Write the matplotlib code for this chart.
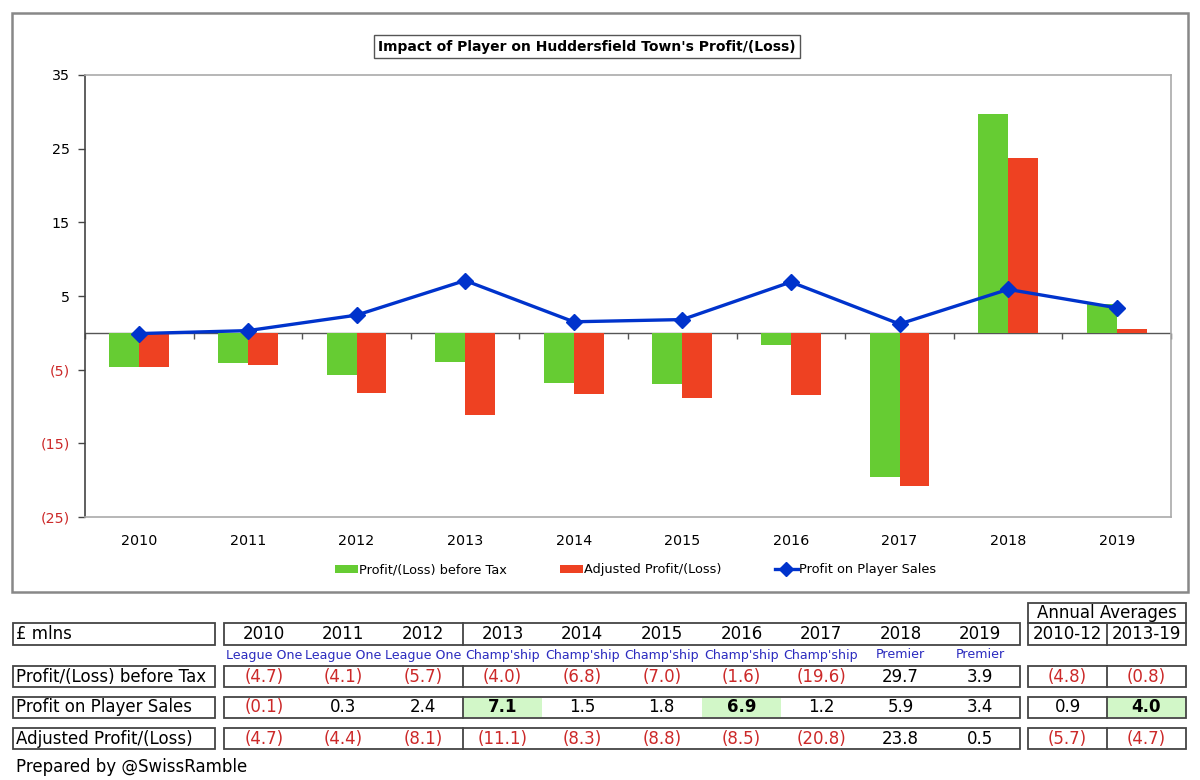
import numpy as np
import matplotlib
matplotlib.use("Agg")
import matplotlib.pyplot as plt
from matplotlib.patches import Rectangle

# ---- data ----
years = ['2010', '2011', '2012', '2013', '2014', '2015', '2016', '2017', '2018', '2019']
leagues = ['League One', 'League One', 'League One', "Champ'ship", "Champ'ship",
           "Champ'ship", "Champ'ship", "Champ'ship", 'Premier', 'Premier']
pbt = [-4.7, -4.1, -5.7, -4.0, -6.8, -7.0, -1.6, -19.6, 29.7, 3.9]
player_sales = [-0.1, 0.3, 2.4, 7.1, 1.5, 1.8, 6.9, 1.2, 5.9, 3.4]
adjusted = [-4.7, -4.4, -8.1, -11.1, -8.3, -8.8, -8.5, -20.8, 23.8, 0.5]

avg_labels = ['2010-12', '2013-19']
avg_pbt = [-4.8, -0.8]
avg_sales = [0.9, 4.0]
avg_adjusted = [-5.7, -4.7]

row_names = ['Profit/(Loss) before Tax', 'Profit on Player Sales', 'Adjusted Profit/(Loss)']
row_values = [pbt, player_sales, adjusted]
row_avgs = [avg_pbt, avg_sales, avg_adjusted]
# highlighted cells (row index, column index) - bold on pale green
hilite_years = [(1, 3), (1, 6)]
hilite_avgs = [(1, 1)]

ytick_vals = [35, 25, 15, 5, -5, -15, -25]

title = "Impact of Player on Huddersfield Town's Profit/(Loss)"

GREEN = '#66cc33'
RED_BAR = '#ee4122'
BLUE = '#0033cc'
RED_TXT = '#cc2929'
LEAGUE_BLUE = '#2b2bbf'
HILITE = '#d2f7c8'
BOX = '#444444'

plt.rcParams['font.family'] = ['DejaVu Sans']

W, H = 1200, 780
fig = plt.figure(figsize=(12, 7.8), dpi=100)

# background axes in pixel coords (y down)
bg = fig.add_axes([0, 0, 1, 1], zorder=0)
bg.set_xlim(0, W)
bg.set_ylim(H, 0)
bg.axis('off')


def px_box(x0, y0, x1, y1):
    return [x0 / W, 1 - y1 / H, (x1 - x0) / W, (y1 - y0) / H]


def fmt(v, dec=1):
    s = f'{abs(v):.{dec}f}'
    return f'({s})' if v < 0 else s


def tcol(v):
    return RED_TXT if v < 0 else 'black'


# outer chart frame + title
bg.add_patch(Rectangle((12, 13), 1176, 579, fill=False, ec='#888888', lw=1.8))
bg.text(587, 46.5, title, ha='center', va='center', fontsize=10, fontweight='bold',
        bbox=dict(boxstyle='square,pad=0.3', fc='white', ec='#555555', lw=1))

# ==========================================
# chart
# ==========================================
ax = fig.add_axes(px_box(85, 75, 1171, 517), zorder=1)
ax.set_facecolor('white')
x = np.arange(len(years))
bw = 0.276
ax.axhline(0, color='#555555', lw=1, zorder=1.5)
b1 = ax.bar(x - bw / 2, pbt, bw, color=GREEN, zorder=2)
b2 = ax.bar(x + bw / 2, adjusted, bw, color=RED_BAR, zorder=2)
ln, = ax.plot(x, player_sales, color=BLUE, lw=2.4, marker='D', ms=8.5, zorder=3)
# category boundary ticks on the zero line
ax.plot(np.arange(-0.5, len(years)), np.zeros(len(years) + 1), ls='none', marker=3,
        ms=4, mew=1, color='#555555', clip_on=False, zorder=1.5)

ax.set_xlim(-0.5, len(years) - 0.5)
ax.set_ylim(-25, 35)
ax.set_xticks(x)
ax.set_xticklabels(years, fontsize=10.3)
ax.tick_params(axis='x', length=0, pad=12)
ax.set_yticks(ytick_vals)
ax.set_yticklabels([fmt(v, 0) for v in ytick_vals], fontsize=10.3)
for lab, v in zip(ax.get_yticklabels(), ytick_vals):
    lab.set_color(tcol(v))
ax.tick_params(axis='y', length=5, width=1, color='#444444', pad=6)
ax.spines['left'].set_color('#444444')
ax.spines['left'].set_linewidth(1.2)
for s in ['top', 'right', 'bottom']:
    ax.spines[s].set_color('#aaaaaa')
    ax.spines[s].set_linewidth(1.2)

# legend entries, placed one by one like the reference
entries = [(b1, 'Profit/(Loss) before Tax', 335),
           (b2, 'Adjusted Profit/(Loss)', 560),
           (ln, 'Profit on Player Sales', 775)]
for h, lab, xp in entries:
    fig.legend([h], [lab], loc='center left', bbox_to_anchor=(xp, 570),
               bbox_transform=bg.transData, frameon=False, fontsize=9.3,
               borderpad=0, borderaxespad=0, handlelength=1.75, handleheight=0.6,
               handletextpad=0.12, markerscale=0.8)

# ==========================================
# table
# ==========================================
lab_x0, lab_x1 = 13, 215
yr_x0, yr_x1 = 224, 1020
av_x0, av_x1 = 1028, 1186
cw = (yr_x1 - yr_x0) / len(years)
aw = (av_x1 - av_x0) / len(avg_labels)
split = 3  # divider between 2012 and 2013

head = (623, 645)
rows_y = [(666, 687), (697, 718), (728, 749)]
league_y = 655
fs = 12


def boxes(y0, y1):
    for a, b in [(lab_x0, lab_x1), (yr_x0, yr_x1), (av_x0, av_x1)]:
        bg.add_patch(Rectangle((a, y0), b - a, y1 - y0, fill=False, ec=BOX, lw=1.3, zorder=3))
    bg.plot([yr_x0 + split * cw] * 2, [y0, y1], color=BOX, lw=1.3, zorder=3)
    bg.plot([av_x0 + aw] * 2, [y0, y1], color=BOX, lw=1.3, zorder=3)


# annual averages header
bg.add_patch(Rectangle((av_x0, 603), av_x1 - av_x0, head[0] - 603, fill=False, ec=BOX, lw=1.3))
bg.text((av_x0 + av_x1) / 2, 613.5, 'Annual Averages', ha='center', va='center', fontsize=fs)

boxes(*head)
hy = sum(head) / 2
bg.text(lab_x0 + 3, hy, '£ mlns', ha='left', va='center', fontsize=fs)
for i, yr in enumerate(years):
    cx = yr_x0 + (i + 0.5) * cw
    bg.text(cx, hy, yr, ha='center', va='center', fontsize=fs)
    bg.text(cx, league_y, leagues[i], ha='center', va='center', fontsize=9.1, color=LEAGUE_BLUE)
for j, al in enumerate(avg_labels):
    bg.text(av_x0 + (j + 0.5) * aw, hy, al, ha='center', va='center', fontsize=fs)

for r, (name, vals, avgs) in enumerate(zip(row_names, row_values, row_avgs)):
    y0, y1 = rows_y[r]
    cy = (y0 + y1) / 2
    for (hr, hc) in hilite_years:
        if hr == r:
            bg.add_patch(Rectangle((yr_x0 + hc * cw, y0 + 1), cw, y1 - y0 - 2, fc=HILITE, ec='none', zorder=1))
    for (hr, hc) in hilite_avgs:
        if hr == r:
            bg.add_patch(Rectangle((av_x0 + hc * aw, y0 + 1), aw, y1 - y0 - 2, fc=HILITE, ec='none', zorder=1))
    boxes(y0, y1)
    bg.text(lab_x0 + 3, cy, name, ha='left', va='center', fontsize=fs)
    for i, v in enumerate(vals):
        bold = (r, i) in hilite_years
        bg.text(yr_x0 + (i + 0.5) * cw, cy, fmt(v), ha='center', va='center', fontsize=fs,
                color=tcol(v), fontweight='bold' if bold else 'normal', zorder=4)
    for j, v in enumerate(avgs):
        bold = (r, j) in hilite_avgs
        bg.text(av_x0 + (j + 0.5) * aw, cy, fmt(v), ha='center', va='center', fontsize=fs,
                color=tcol(v), fontweight='bold' if bold else 'normal', zorder=4)

bg.text(lab_x0 + 3, 767, 'Prepared by @SwissRamble', ha='left', va='center', fontsize=fs)

fig.savefig('out.png', dpi=100, facecolor='white')
